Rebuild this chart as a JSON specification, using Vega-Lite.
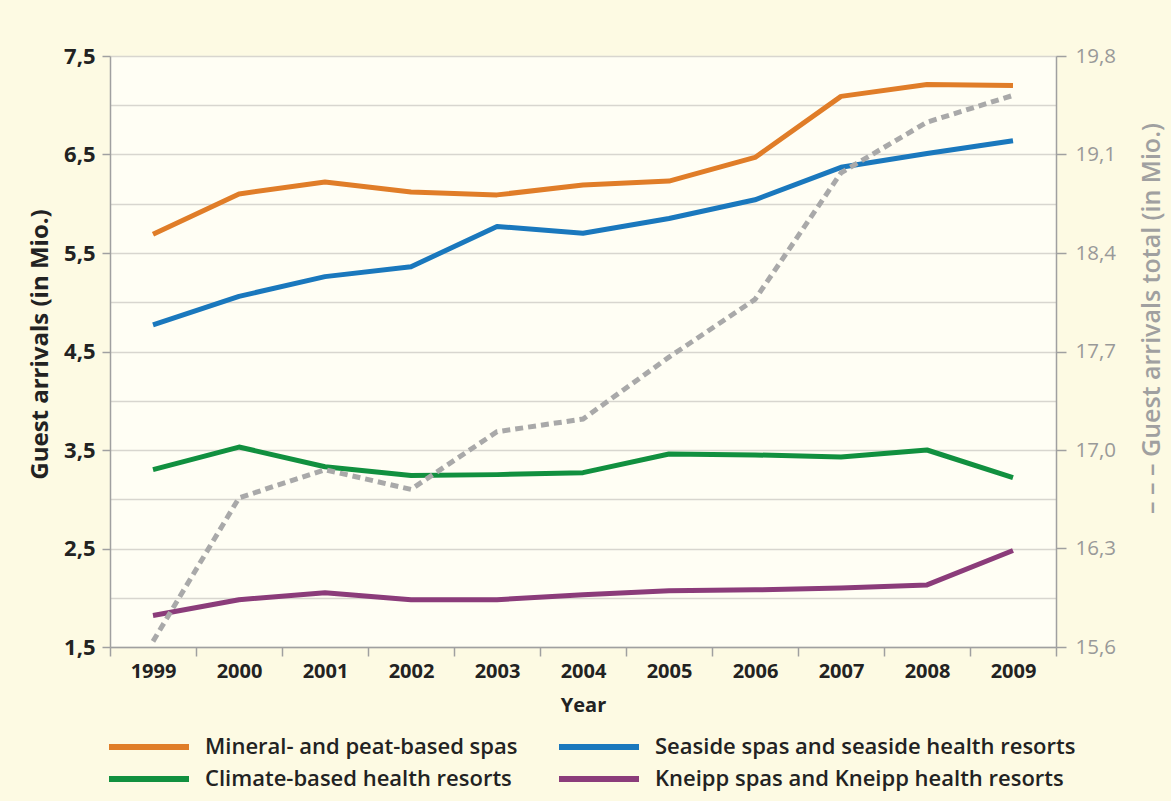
{
  "$schema": "https://vega.github.io/schema/vega-lite/v6.json",
  "width": 946,
  "height": 591,
  "autosize": "none",
  "padding": {"left": 110, "top": 56, "right": 115, "bottom": 154},
  "background": "#fdfae3",
  "config": {
    "view": {"fill": "#fffef4", "stroke": null},
    "font": "Open Sans"
  },
  "datasets": {
    "regions": [
      {"year": "1999", "series": "Mineral- and peat-based spas", "value": 5.69},
      {"year": "2000", "series": "Mineral- and peat-based spas", "value": 6.10},
      {"year": "2001", "series": "Mineral- and peat-based spas", "value": 6.22},
      {"year": "2002", "series": "Mineral- and peat-based spas", "value": 6.12},
      {"year": "2003", "series": "Mineral- and peat-based spas", "value": 6.09},
      {"year": "2004", "series": "Mineral- and peat-based spas", "value": 6.19},
      {"year": "2005", "series": "Mineral- and peat-based spas", "value": 6.23},
      {"year": "2006", "series": "Mineral- and peat-based spas", "value": 6.47},
      {"year": "2007", "series": "Mineral- and peat-based spas", "value": 7.09},
      {"year": "2008", "series": "Mineral- and peat-based spas", "value": 7.21},
      {"year": "2009", "series": "Mineral- and peat-based spas", "value": 7.20},
      {"year": "1999", "series": "Seaside spas and seaside health resorts", "value": 4.77},
      {"year": "2000", "series": "Seaside spas and seaside health resorts", "value": 5.06},
      {"year": "2001", "series": "Seaside spas and seaside health resorts", "value": 5.26},
      {"year": "2002", "series": "Seaside spas and seaside health resorts", "value": 5.36},
      {"year": "2003", "series": "Seaside spas and seaside health resorts", "value": 5.77},
      {"year": "2004", "series": "Seaside spas and seaside health resorts", "value": 5.70},
      {"year": "2005", "series": "Seaside spas and seaside health resorts", "value": 5.85},
      {"year": "2006", "series": "Seaside spas and seaside health resorts", "value": 6.04},
      {"year": "2007", "series": "Seaside spas and seaside health resorts", "value": 6.37},
      {"year": "2008", "series": "Seaside spas and seaside health resorts", "value": 6.51},
      {"year": "2009", "series": "Seaside spas and seaside health resorts", "value": 6.64},
      {"year": "1999", "series": "Climate-based health resorts", "value": 3.30},
      {"year": "2000", "series": "Climate-based health resorts", "value": 3.53},
      {"year": "2001", "series": "Climate-based health resorts", "value": 3.33},
      {"year": "2002", "series": "Climate-based health resorts", "value": 3.24},
      {"year": "2003", "series": "Climate-based health resorts", "value": 3.25},
      {"year": "2004", "series": "Climate-based health resorts", "value": 3.27},
      {"year": "2005", "series": "Climate-based health resorts", "value": 3.46},
      {"year": "2006", "series": "Climate-based health resorts", "value": 3.45},
      {"year": "2007", "series": "Climate-based health resorts", "value": 3.43},
      {"year": "2008", "series": "Climate-based health resorts", "value": 3.50},
      {"year": "2009", "series": "Climate-based health resorts", "value": 3.22},
      {"year": "1999", "series": "Kneipp spas and Kneipp health resorts", "value": 1.82},
      {"year": "2000", "series": "Kneipp spas and Kneipp health resorts", "value": 1.98},
      {"year": "2001", "series": "Kneipp spas and Kneipp health resorts", "value": 2.05},
      {"year": "2002", "series": "Kneipp spas and Kneipp health resorts", "value": 1.98},
      {"year": "2003", "series": "Kneipp spas and Kneipp health resorts", "value": 1.98},
      {"year": "2004", "series": "Kneipp spas and Kneipp health resorts", "value": 2.03},
      {"year": "2005", "series": "Kneipp spas and Kneipp health resorts", "value": 2.07},
      {"year": "2006", "series": "Kneipp spas and Kneipp health resorts", "value": 2.08},
      {"year": "2007", "series": "Kneipp spas and Kneipp health resorts", "value": 2.10},
      {"year": "2008", "series": "Kneipp spas and Kneipp health resorts", "value": 2.13},
      {"year": "2009", "series": "Kneipp spas and Kneipp health resorts", "value": 2.48}
    ],
    "total": [
      {"year": "1999", "total": 15.64},
      {"year": "2000", "total": 16.66},
      {"year": "2001", "total": 16.86},
      {"year": "2002", "total": 16.72},
      {"year": "2003", "total": 17.13},
      {"year": "2004", "total": 17.22},
      {"year": "2005", "total": 17.66},
      {"year": "2006", "total": 18.07},
      {"year": "2007", "total": 18.97},
      {"year": "2008", "total": 19.33},
      {"year": "2009", "total": 19.52}
    ]
  },
  "layer": [
    {
      "data": {"name": "regions"},
      "mark": {"type": "line", "strokeWidth": 5, "strokeJoin": "round"},
      "encoding": {
        "x": {
          "field": "year",
          "type": "ordinal",
          "bandPosition": 0.5,
          "scale": {"type": "band", "paddingInner": 0, "paddingOuter": 0},
          "axis": {
            "title": "Year",
            "titleFont": "Open Sans",
            "titleFontSize": 20,
            "titleFontWeight": "bold",
            "titleColor": "#222222",
            "titlePadding": 14,
            "labelAngle": 0,
            "labelFont": "Open Sans",
            "labelFontSize": 20,
            "labelFontWeight": "bold",
            "labelColor": "#222222",
            "labelPadding": 5,
            "tickBand": "extent",
            "tickSize": 9,
            "tickColor": "#a0a0a0",
            "tickWidth": 1.5,
            "domainColor": "#a0a0a0",
            "domainWidth": 1.5,
            "grid": false
          }
        },
        "y": {
          "field": "value",
          "type": "quantitative",
          "scale": {"domain": [1.5, 7.5], "nice": false, "zero": false},
          "axis": {
            "title": "Guest arrivals (in Mio.)",
            "titleFont": "Open Sans",
            "titleFontSize": 24,
            "titleFontWeight": "bold",
            "titleColor": "#222222",
            "titleAngle": -90,
            "titleAlign": "center",
            "titleBaseline": "middle",
            "titleX": -70,
            "titleY": 288,
            "values": [1.5, 2, 2.5, 3, 3.5, 4, 4.5, 5, 5.5, 6, 6.5, 7, 7.5],
            "labelExpr": "datum.value % 1 == 0.5 ? replace(format(datum.value, '.1f'), '.', ',') : ''",
            "labelFont": "Open Sans",
            "labelFontSize": 22,
            "labelFontWeight": "bold",
            "labelColor": "#222222",
            "labelPadding": 7,
            "tickSize": 8,
            "tickColor": "#a0a0a0",
            "tickWidth": 1.5,
            "tickOpacity": {"condition": {"test": "datum.value % 1 == 0.5", "value": 1}, "value": 0},
            "domainColor": "#a0a0a0",
            "domainWidth": 1.5,
            "grid": true,
            "gridColor": "#d8d6cf",
            "gridWidth": 1.5
          }
        },
        "color": {
          "field": "series",
          "type": "nominal",
          "scale": {
            "domain": [
              "Mineral- and peat-based spas",
              "Seaside spas and seaside health resorts",
              "Climate-based health resorts",
              "Kneipp spas and Kneipp health resorts"
            ],
            "range": ["#e07d28", "#1a78bd", "#11903f", "#8b3c7a"]
          },
          "legend": {
            "title": null,
            "orient": "none",
            "legendX": -1,
            "legendY": 680,
            "columns": 2,
            "direction": "horizontal",
            "symbolType": "M-8,0H8",
            "symbolSize": 100,
            "symbolStrokeWidth": 6,
            "symbolOffset": 29,
            "labelOffset": 45,
            "labelFont": "Open Sans",
            "labelFontSize": 22,
            "labelFontWeight": 600,
            "labelColor": "#222222",
            "labelLimit": 600,
            "columnPadding": 29,
            "rowPadding": 8,
            "padding": 0
          }
        }
      }
    },
    {
      "data": {"name": "total"},
      "mark": {"type": "line", "strokeWidth": 5, "strokeDash": [8, 5], "color": "#a9a9a9"},
      "encoding": {
        "x": {"field": "year", "type": "ordinal", "bandPosition": 0.5},
        "y": {
          "field": "total",
          "type": "quantitative",
          "scale": {"domain": [15.6, 19.8], "nice": false, "zero": false},
          "axis": {
            "orient": "right",
            "title": "– – –  Guest arrivals total (in Mio.)",
            "titleFont": "Open Sans",
            "titleFontSize": 25,
            "titleFontWeight": 600,
            "titleColor": "#a0a0a0",
            "titleAngle": -90,
            "titleAlign": "center",
            "titleBaseline": "middle",
            "titleX": 95,
            "titleY": 262,
            "values": [15.6, 16.3, 17.0, 17.7, 18.4, 19.1, 19.8],
            "labelExpr": "replace(format(datum.value, '.1f'), '.', ',')",
            "labelFont": "Open Sans",
            "labelFontSize": 20.5,
            "labelColor": "#999999",
            "labelPadding": 9,
            "tickSize": 10,
            "tickColor": "#a0a0a0",
            "tickWidth": 1.5,
            "domainColor": "#a0a0a0",
            "domainWidth": 1.5,
            "grid": false
          }
        }
      }
    }
  ],
  "resolve": {"scale": {"y": "independent"}}
}
